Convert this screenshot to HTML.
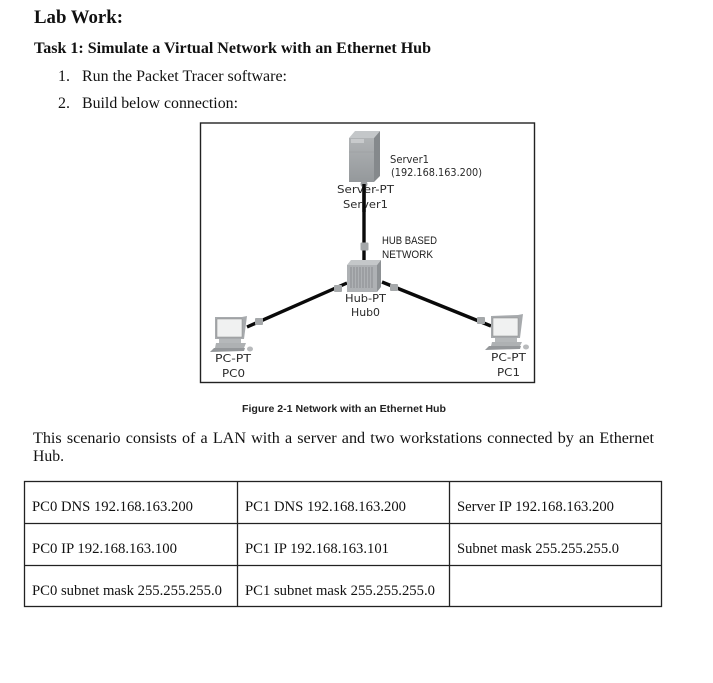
<!DOCTYPE html>
<html lang="en">
<head>
<meta charset="utf-8">
<title>Lab Work</title>
<style>
html,body{margin:0;padding:0;background:#fff;width:713px;height:683px;overflow:hidden}
svg{display:block;filter:blur(0.25px)}
.t{font-family:"Liberation Serif",serif;fill:#111}
.s{font-family:"DejaVu Sans",sans-serif;font-size:11px;fill:#2a2a2a}
.a{font-family:"Liberation Sans",sans-serif;font-size:11px;fill:#1c1c1c}
</style>
</head>
<body>
<svg width="713" height="683" viewBox="0 0 713 683" xmlns="http://www.w3.org/2000/svg">
<defs>
<linearGradient id="g" x1="0" y1="0" x2="0" y2="1"><stop offset="0" stop-color="#b0b3b5"/><stop offset="1" stop-color="#94989b"/></linearGradient>
</defs>
<rect width="713" height="683" fill="#fff"/>

<!-- headings -->
<text class="t" x="34" y="23" font-size="18.5" font-weight="bold" textLength="89" lengthAdjust="spacingAndGlyphs">Lab Work:</text>
<text class="t" x="34" y="53" font-size="16" font-weight="bold" textLength="397" lengthAdjust="spacingAndGlyphs">Task 1: Simulate a Virtual Network with an Ethernet Hub</text>
<text class="t" x="58" y="81" font-size="16" textLength="12" lengthAdjust="spacingAndGlyphs">1.</text>
<text class="t" x="82" y="81" font-size="16" textLength="205" lengthAdjust="spacingAndGlyphs">Run the Packet Tracer software:</text>
<text class="t" x="58" y="108" font-size="16" textLength="12" lengthAdjust="spacingAndGlyphs">2.</text>
<text class="t" x="82" y="108" font-size="16" textLength="156" lengthAdjust="spacingAndGlyphs">Build below connection:</text>

<!-- diagram frame -->
<rect x="200.5" y="123" width="334" height="259.5" fill="#fff" stroke="#222" stroke-width="1.4"/>

<!-- server -->
<polygon points="349,138 355,131 380,131 374,138" fill="#c4c7c9"/>
<polygon points="374,138 380,131 380,176 374,182" fill="#85898c"/>
<rect x="349" y="138" width="25" height="44" fill="url(#g)"/>
<rect x="351" y="139" width="13" height="4" fill="#c8cacc"/>
<line x1="349" y1="152" x2="374" y2="152" stroke="#a0a3a5"/>

<!-- links -->
<line x1="364" y1="182" x2="364" y2="263" stroke="#0a0a0a" stroke-width="3.4"/>
<line x1="347" y1="283" x2="247" y2="327" stroke="#0a0a0a" stroke-width="3.4"/>
<line x1="382" y1="282" x2="491" y2="326" stroke="#0a0a0a" stroke-width="3.4"/>
<circle cx="364" cy="184" r="3.5" fill="#9a9da0"/>
<rect x="360.5" y="242.5" width="8" height="8" rx="1" fill="#a5a8aa"/>
<rect x="334" y="285" width="8" height="7" rx="1" fill="#a5a8aa"/>
<rect x="255" y="318" width="8" height="7" rx="1" fill="#a5a8aa"/>
<rect x="390" y="284" width="8" height="7" rx="1" fill="#a5a8aa"/>
<rect x="477" y="317" width="8" height="7" rx="1" fill="#a5a8aa"/>

<!-- hub -->
<polygon points="347,265 351,260 381,260 377,265" fill="#c4c7c9"/>
<polygon points="377,265 381,260 381,287 377,292" fill="#8d9194"/>
<rect x="347" y="265" width="30" height="27" fill="#aeb1b4"/>
<g stroke="#85898c" stroke-width="0.9">
<line x1="351" y1="267" x2="351" y2="288"/><line x1="354" y1="267" x2="354" y2="288"/>
<line x1="357" y1="267" x2="357" y2="288"/><line x1="360" y1="267" x2="360" y2="288"/>
<line x1="363" y1="267" x2="363" y2="288"/><line x1="366" y1="267" x2="366" y2="288"/>
<line x1="369" y1="267" x2="369" y2="288"/><line x1="372" y1="267" x2="372" y2="288"/>
</g>

<!-- PC0 -->
<g transform="translate(210,315)">
<polygon points="5,2 32,2 37,1 34,24 5,24" fill="#a7aaad"/>
<rect x="7" y="4" width="25" height="18" fill="#f0f1f1" stroke="#8a8a8a" stroke-width="0.5"/>
<rect x="9" y="24" width="22" height="4" fill="#b5b8ba"/>
<polygon points="6,28 36,28 34,33 5,33" fill="#aeb1b3"/>
<polygon points="4,33 35,33 34,36 0,37" fill="#94979a"/>
<ellipse cx="40" cy="34" rx="3" ry="2.5" fill="#b8babc"/>
</g>

<!-- PC1 -->
<g transform="translate(485,313)">
<polygon points="6,3 33,2 38,1 35,25 6,25" fill="#a7aaad"/>
<rect x="8" y="5" width="25" height="18" fill="#f0f1f1" stroke="#8a8a8a" stroke-width="0.5"/>
<rect x="10" y="25" width="22" height="4" fill="#b5b8ba"/>
<polygon points="7,29 37,29 35,33 6,33" fill="#aeb1b3"/>
<polygon points="4,33 36,33 35,36 0,37" fill="#94979a"/>
<ellipse cx="41" cy="34" rx="3" ry="2.5" fill="#b8babc"/>
</g>

<!-- diagram labels -->
<text class="s" x="390" y="163" font-size="10" textLength="39" lengthAdjust="spacingAndGlyphs">Server1</text>
<text class="s" x="391" y="176" font-size="10" textLength="91" lengthAdjust="spacingAndGlyphs">(192.168.163.200)</text>
<text class="s" x="337" y="193" textLength="57" lengthAdjust="spacingAndGlyphs">Server-PT</text>
<text class="s" x="343" y="208" textLength="45" lengthAdjust="spacingAndGlyphs">Server1</text>
<line x1="364" y1="184" x2="364" y2="212" stroke="#0a0a0a" stroke-width="3.4"/>
<text class="a" x="382" y="244" font-size="10.5" textLength="55" lengthAdjust="spacingAndGlyphs">HUB BASED</text>
<text class="a" x="382" y="258" font-size="10.5" textLength="51" lengthAdjust="spacingAndGlyphs">NETWORK</text>
<text class="s" x="345" y="302" textLength="41" lengthAdjust="spacingAndGlyphs">Hub-PT</text>
<text class="s" x="351" y="316" textLength="29" lengthAdjust="spacingAndGlyphs">Hub0</text>
<text class="s" x="215" y="362" textLength="36" lengthAdjust="spacingAndGlyphs">PC-PT</text>
<text class="s" x="222" y="377" textLength="23" lengthAdjust="spacingAndGlyphs">PC0</text>
<text class="s" x="491" y="361" textLength="35" lengthAdjust="spacingAndGlyphs">PC-PT</text>
<text class="s" x="497" y="376" textLength="23" lengthAdjust="spacingAndGlyphs">PC1</text>

<!-- caption -->
<text x="242" y="412" font-family="'Liberation Sans',sans-serif" font-size="10.5" font-weight="bold" fill="#222" textLength="204" lengthAdjust="spacingAndGlyphs">Figure 2-1 Network with an Ethernet Hub</text>

<!-- paragraph -->
<text class="t" x="33" y="443" font-size="16" word-spacing="1.1" textLength="621" lengthAdjust="spacingAndGlyphs">This scenario consists of a LAN with a server and two workstations connected by an Ethernet</text>
<text class="t" x="33" y="461" font-size="16" textLength="31" lengthAdjust="spacingAndGlyphs">Hub.</text>

<!-- table -->
<g stroke="#222" stroke-width="1.3" fill="none">
<rect x="24.5" y="481.5" width="637" height="125"/>
<line x1="24" y1="523.5" x2="662" y2="523.5"/>
<line x1="24" y1="565.5" x2="662" y2="565.5"/>
<line x1="237.5" y1="481" x2="237.5" y2="607"/>
<line x1="449.5" y1="481" x2="449.5" y2="607"/>
</g>
<g font-size="14.5">
<text class="t" x="32" y="511" textLength="161" lengthAdjust="spacingAndGlyphs">PC0 DNS 192.168.163.200</text>
<text class="t" x="245" y="511" textLength="161" lengthAdjust="spacingAndGlyphs">PC1 DNS 192.168.163.200</text>
<text class="t" x="457" y="511" textLength="157" lengthAdjust="spacingAndGlyphs">Server IP 192.168.163.200</text>
<text class="t" x="32" y="553" textLength="145" lengthAdjust="spacingAndGlyphs">PC0 IP 192.168.163.100</text>
<text class="t" x="245" y="553" textLength="144" lengthAdjust="spacingAndGlyphs">PC1 IP 192.168.163.101</text>
<text class="t" x="457" y="553" textLength="162" lengthAdjust="spacingAndGlyphs">Subnet mask 255.255.255.0</text>
<text class="t" x="32" y="595" textLength="190" lengthAdjust="spacingAndGlyphs">PC0 subnet mask 255.255.255.0</text>
<text class="t" x="245" y="595" textLength="190" lengthAdjust="spacingAndGlyphs">PC1 subnet mask 255.255.255.0</text>
</g>
</svg>
</body>
</html>
